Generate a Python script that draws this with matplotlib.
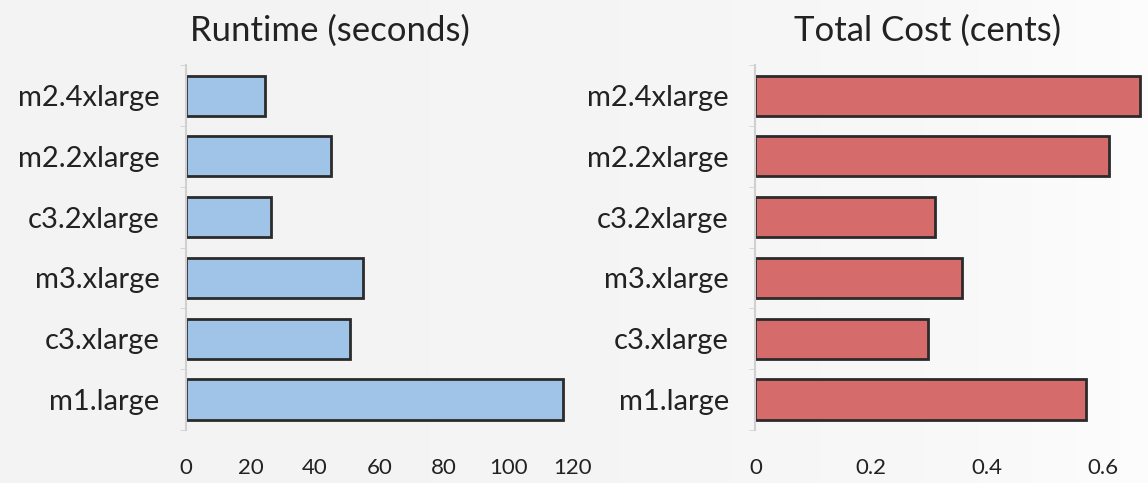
import numpy as np
import matplotlib.pyplot as plt

plt.rcParams['font.family'] = ['Lato', 'DejaVu Sans']

instancias = ["m1.large", "c3.xlarge", "m3.xlarge", "c3.2xlarge", "m2.2xlarge", "m2.4xlarge"]
runtime = [117, 51, 55, 26.5, 45, 24.5]
custo = [0.571, 0.298, 0.357, 0.31, 0.61, 0.664]

runtime_ticks = [0, 20, 40, 60, 80, 100, 120]
custo_ticks = [0, 0.2, 0.4, 0.6]

fig = plt.figure(figsize=(11.48, 4.83), dpi=100, facecolor='#f2f2f2')

# fundo com leve gradiente para o branco na direita
bg = fig.add_axes([0, 0, 1, 1], zorder=-10)
grad = np.linspace(0, 1, 256) ** 3
bg.imshow(np.vstack([grad, grad]), aspect='auto', cmap='Greys_r',
          vmin=-12, vmax=1.3, extent=[0, 1, 0, 1])
bg.axis('off')


def painel(rect, valores, cor, ticks, xmax, titulo, titulo_x):
    ax = fig.add_axes(rect)
    ax.patch.set_alpha(0)
    y = np.arange(len(instancias))
    ax.barh(y, valores, height=0.66, color=cor, edgecolor='#2b2b2b', linewidth=2)
    ax.set_yticks(y)
    ax.set_yticklabels(instancias, fontsize=21, color='#222222')
    ax.set_yticks(np.arange(len(instancias) + 1) - 0.5, minor=True)
    ax.set_xticks(ticks)
    ax.set_xticklabels([f"{t:g}" for t in ticks], fontsize=16, color='#222222')
    ax.set_xlim(0, xmax)
    ax.set_ylim(-0.5, len(instancias) - 0.5)
    for s in ['top', 'right', 'bottom']:
        ax.spines[s].set_visible(False)
    ax.spines['left'].set_color('#d0d0d0')
    ax.spines['left'].set_linewidth(1.5)
    ax.tick_params(axis='y', which='major', length=0, pad=19)
    ax.tick_params(axis='y', which='minor', length=4, color='#d0d0d0')
    ax.tick_params(axis='x', length=0, pad=20)
    fig.text(titulo_x, 0.936, titulo, fontsize=25, color='#222222',
             ha='center', va='center')
    return ax


painel([0.162, 0.110, 0.337, 0.755], runtime, '#9fc4e8', runtime_ticks, 120,
       "Runtime (seconds)", 0.287)
painel([0.658, 0.110, 0.342, 0.755], custo, '#d56b6b', custo_ticks, 0.678,
       "Total Cost (cents)", 0.808)

fig.savefig("out.png", dpi=100, facecolor=fig.get_facecolor())
